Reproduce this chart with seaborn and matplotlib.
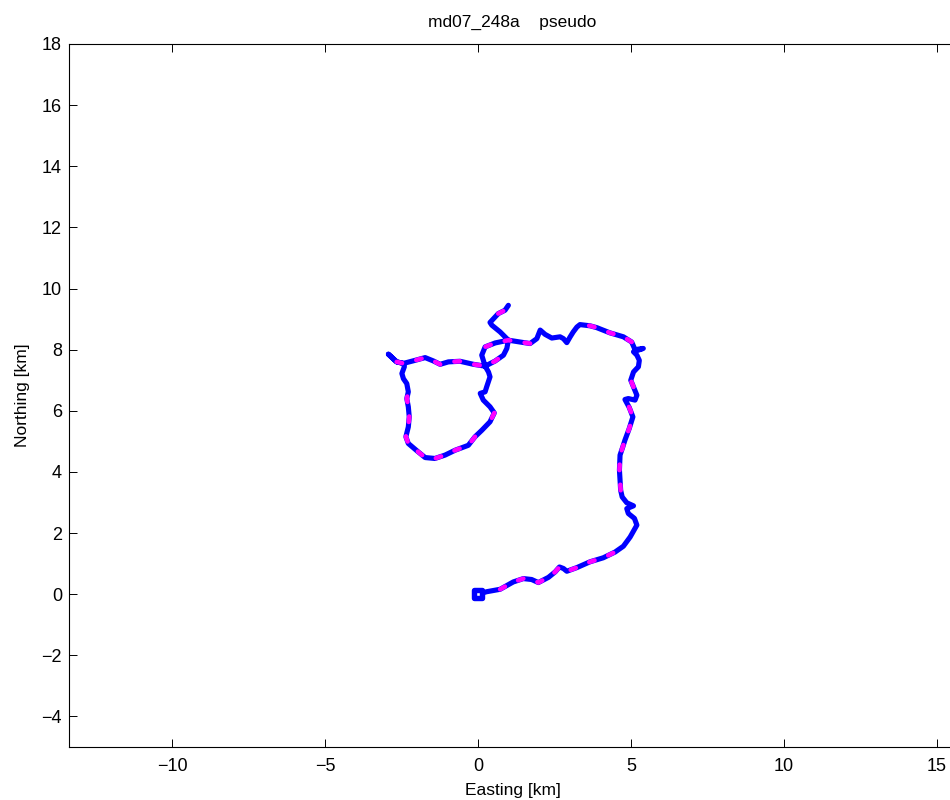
import numpy as np
import pandas as pd
import matplotlib
matplotlib.use("Agg")
import matplotlib.pyplot as plt
import seaborn as sns

# Vehicle track, easting / northing in km relative to the launch point
easting = [
    0.00, 0.28, 0.72, 1.15, 1.48, 1.75, 1.97, 2.30, 2.52, 2.66,
    2.79, 2.90, 3.23, 3.66, 4.09, 4.48, 4.75, 4.97, 5.19, 5.11,
    4.91, 4.86, 5.08, 4.86, 4.71, 4.66, 4.62, 4.64, 4.73, 4.80,
    4.94, 5.06, 4.94, 4.80, 4.91, 5.13, 5.19, 5.08, 4.99, 5.08,
    5.24, 5.27, 5.19, 5.08, 5.40, 5.13, 5.02, 4.75, 4.31, 3.88,
    3.66, 3.33, 3.23, 3.11, 3.01, 2.90, 2.79, 2.68, 2.41, 2.19,
    2.03, 1.92, 1.70, 1.37, 0.99, 0.56, 0.23, 0.12, 0.23, 0.34,
    0.39, 0.28, 0.23, 0.07, 0.17, 0.39, 0.53, 0.39, 0.12, -0.10,
    -0.32, -0.75, -1.08, -1.41, -1.73, -1.95, -2.28, -2.36, -2.28, -2.25,
    -2.28, -2.33, -2.28, -2.33, -2.44, -2.49, -2.41, -2.44, -2.66, -2.93,
    -2.66, -2.44, -2.06, -1.73, -1.46, -1.24, -0.97, -0.59, -0.15, 0.23,
    0.56, 0.83, 0.94, 0.99, 0.72, 0.45, 0.39, 0.66, 0.88, 0.99,
]
northing = [
    0.00, 0.08, 0.16, 0.40, 0.51, 0.48, 0.38, 0.55, 0.73, 0.89,
    0.84, 0.75, 0.87, 1.06, 1.19, 1.38, 1.57, 1.87, 2.26, 2.48,
    2.64, 2.80, 2.89, 2.99, 3.18, 3.40, 4.06, 4.55, 4.82, 5.04,
    5.42, 5.80, 6.11, 6.37, 6.40, 6.35, 6.51, 6.78, 7.00, 7.27,
    7.44, 7.65, 7.82, 7.93, 8.04, 8.00, 8.25, 8.42, 8.55, 8.72,
    8.78, 8.82, 8.74, 8.58, 8.42, 8.23, 8.36, 8.42, 8.38, 8.50,
    8.64, 8.36, 8.20, 8.25, 8.31, 8.22, 8.09, 7.82, 7.46, 7.27,
    7.11, 6.78, 6.62, 6.57, 6.35, 6.13, 5.93, 5.64, 5.36, 5.15,
    4.87, 4.71, 4.55, 4.44, 4.47, 4.65, 4.93, 5.15, 5.47, 5.80,
    6.13, 6.40, 6.62, 6.89, 7.05, 7.22, 7.44, 7.55, 7.60, 7.85,
    7.60, 7.55, 7.65, 7.74, 7.63, 7.52, 7.60, 7.62, 7.52, 7.46,
    7.63, 7.82, 8.04, 8.31, 8.58, 8.80, 8.89, 9.18, 9.29, 9.45,
]
# 1 where the pseudo-range solution is available along the track
pseudo_fix = [
    0, 0, 1, 1, 1, 1, 1, 1, 1, 1,
    1, 1, 1, 1, 1, 1, 1, 0, 0, 0,
    0, 0, 0, 0, 0, 1, 1, 1, 1, 1,
    1, 1, 1, 1, 0, 0, 0, 1, 1, 0,
    0, 0, 0, 0, 0, 0, 1, 1, 1, 1,
    1, 1, 0, 0, 0, 0, 0, 0, 0, 0,
    0, 0, 1, 1, 1, 1, 1, 0, 0, 0,
    0, 0, 0, 0, 0, 0, 1, 1, 0, 1,
    1, 1, 1, 1, 1, 1, 1, 1, 1, 1,
    1, 1, 1, 0, 0, 0, 0, 0, 0, 0,
    1, 1, 1, 1, 1, 1, 1, 1, 1, 1,
    1, 1, 0, 0, 0, 0, 0, 1, 1, 1,
]

x_ticks = [-10, -5, 0, 5, 10, 15]
y_ticks = [-4, -2, 0, 2, 4, 6, 8, 10, 12, 14, 16, 18]
x_range = (-13.37, 15.62)
y_range = (-5, 18)
title_text = "md07_248a    pseudo"
x_label = "Easting [km]"
y_label = "Northing [km]"

sns.set_theme(style="ticks")
plt.rcParams["font.family"] = ["Liberation Sans", "DejaVu Sans"]
plt.rcParams["axes.edgecolor"] = "black"
plt.rcParams["axes.linewidth"] = 0.8

track = pd.DataFrame({"east": easting, "north": northing, "fix": pseudo_fix})

# split the pseudo-range fixes into runs of consecutive points
flag = track["fix"].to_numpy().astype(bool)
run_id = np.cumsum(np.r_[True, flag[1:] != flag[:-1]])
pseudo = track[flag].assign(run=run_id[flag])

fig = plt.figure(figsize=(9.5, 8), dpi=100)
# the box runs slightly past the right edge of the canvas
ax = fig.add_axes([69 / 950, 53 / 800, 887 / 950, 703 / 800])

sns.lineplot(data=track, x="east", y="north", sort=False, estimator=None,
             color="#0000ff", lw=3.7, solid_capstyle="round",
             solid_joinstyle="round", ax=ax, zorder=2)
sns.lineplot(data=pseudo, x="east", y="north", units="run", sort=False,
             estimator=None, color="#ff00ff", lw=3.3,
             linestyle=(0, (1.2, 3.2)), dash_capstyle="round", ax=ax, zorder=3)
sns.scatterplot(x=easting[:1], y=northing[:1], marker="s", s=30,
                facecolor="white", edgecolor="#0000ff", linewidth=3.9,
                ax=ax, zorder=4)

ax.set_xlim(*x_range)
ax.set_ylim(*y_range)
ax.set_xticks(x_ticks)
ax.set_yticks(y_ticks)
ax.tick_params(direction="in", length=5.8, width=0.7, top=True, right=False,
               labelsize=13, color="black", labelcolor="black")
ax.tick_params(axis="x", pad=8)
ax.tick_params(axis="y", pad=5)
for name, side in ax.spines.items():
    side.set_visible(name != "right")
    side.set_color("black")

ax.set_title(title_text, fontsize=12.5, pad=12, color="black")
ax.set_xlabel(x_label, fontsize=12.5, labelpad=6, color="black")
ax.set_ylabel(y_label, fontsize=12.5, labelpad=8, color="black")

fig.savefig("out.png", dpi=100, facecolor="white")
